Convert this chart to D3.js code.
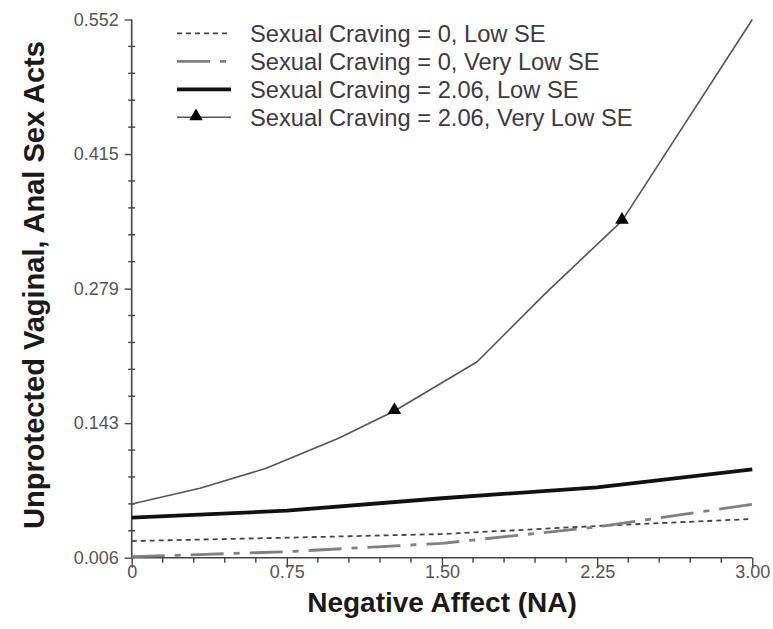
<!DOCTYPE html>
<html>
<head>
<meta charset="utf-8">
<script src="https://cdn.jsdelivr.net/npm/d3@7/dist/d3.min.js"></script>
<style>
  html, body { margin: 0; padding: 0; background: #fff; }
  svg { display: block; font-family: "Liberation Sans", Arial, sans-serif; }
</style>
</head>
<body>
<svg id="chart" width="773" height="629"></svg>
<script>
// ---- data ----
const naLow0 = [0, 0.75, 1.5, 2.25, 3.0];
const valLow0 = [0.0229, 0.0263, 0.0300, 0.0382, 0.0453];          // Sexual Craving = 0, Low SE

const naVeryLow0 = [0, 0.75, 1.5, 2.25, 3.0];
const valVeryLow0 = [0.0070, 0.0121, 0.0206, 0.0372, 0.0602];      // Sexual Craving = 0, Very Low SE

const naLow206 = [0, 0.75, 1.5, 2.25, 3.0];
const valLow206 = [0.0466, 0.0537, 0.0663, 0.0774, 0.0957];        // Sexual Craving = 2.06, Low SE

const naVeryLow206 = [0, 0.33, 0.65, 1.0, 1.27, 1.67, 2.0, 2.37, 3.0];
const valVeryLow206 = [0.0605, 0.0764, 0.0967, 0.1271, 0.1548, 0.2048, 0.2742, 0.3477, 0.552]; // 2.06, Very Low SE
const markerNA = [1.27, 2.37];

const xTickValues = [0, 0.75, 1.5, 2.25, 3.0];
const xTickLabels = ["0", "0.75", "1.50", "2.25", "3.00"];
const yTickValues = [0.006, 0.1425, 0.279, 0.4155, 0.552];
const yTickLabels = ["0.006", "0.143", "0.279", "0.415", "0.552"];

const legendLabels = [
  "Sexual Craving = 0, Low SE",
  "Sexual Craving = 0, Very Low SE",
  "Sexual Craving = 2.06, Low SE",
  "Sexual Craving = 2.06, Very Low SE"
];
const xTitle = "Negative Affect (NA)";
const yTitle = "Unprotected Vaginal, Anal Sex Acts";

// ---- layout ----
const svg = d3.select("#chart");
const x = d3.scaleLinear().domain([0, 3]).range([131.7, 752.3]);
const y = d3.scaleLinear().domain([0.006, 0.552]).range([557.7, 19.5]);

const axisColor = "#444";
const labelColor = "#555";

// Axes lines
const g = svg.append("g");
g.append("line").attr("x1", x(0)).attr("x2", x(3)).attr("y1", y(0.006)).attr("y2", y(0.006))
  .attr("stroke", axisColor).attr("stroke-width", 1.6);
g.append("line").attr("x1", x(0)).attr("x2", x(0)).attr("y1", y(0.006)).attr("y2", y(0.552))
  .attr("stroke", axisColor).attr("stroke-width", 1.6);

// X axis major ticks + labels
const xAxis = d3.axisBottom(x).tickValues(xTickValues).tickSize(10)
  .tickFormat((d, i) => xTickLabels[i]).tickPadding(5);
const gx = svg.append("g").attr("transform", `translate(0,${y(0.006)})`).call(xAxis);
gx.select(".domain").remove();
gx.selectAll(".tick line").attr("stroke", axisColor).attr("stroke-width", 1.4);
gx.selectAll(".tick text").attr("fill", labelColor).attr("font-size", 18)
  .attr("font-family", "Liberation Sans, Arial, sans-serif").attr("y", 8).attr("dy", "0.71em");

// X minor ticks
const xMinor = [];
for (let i = 0; i < xTickValues.length - 1; i++) {
  const a = xTickValues[i], b = xTickValues[i + 1];
  for (let k = 1; k < 5; k++) xMinor.push(a + (b - a) * k / 5);
}
svg.append("g").selectAll("line").data(xMinor).join("line")
  .attr("x1", d => x(d)).attr("x2", d => x(d))
  .attr("y1", y(0.006)).attr("y2", y(0.006) + 5)
  .attr("stroke", axisColor).attr("stroke-width", 1.4);

// Y axis major ticks + labels
const yAxis = d3.axisLeft(y).tickValues(yTickValues).tickSize(7)
  .tickFormat((d, i) => yTickLabels[i]).tickPadding(6);
const gy = svg.append("g").attr("transform", `translate(${x(0)},0)`).call(yAxis);
gy.select(".domain").remove();
gy.selectAll(".tick line").attr("stroke", axisColor).attr("stroke-width", 1.4);
gy.selectAll(".tick text").attr("fill", labelColor).attr("font-size", 18)
  .attr("font-family", "Liberation Sans, Arial, sans-serif");

// Y minor ticks
const yMinor = [];
for (let i = 0; i < yTickValues.length - 1; i++) {
  const a = yTickValues[i], b = yTickValues[i + 1];
  for (let k = 1; k < 5; k++) yMinor.push(a + (b - a) * k / 5);
}
svg.append("g").selectAll("line").data(yMinor).join("line")
  .attr("x1", x(0) - 3.5).attr("x2", x(0) + 3.5)
  .attr("y1", d => y(d)).attr("y2", d => y(d))
  .attr("stroke", axisColor).attr("stroke-width", 1.4);

// ---- series ----
const series = [
  { na: naLow0, val: valLow0, stroke: "#444", width: 1.8, dash: "5,4" },
  { na: naVeryLow0, val: valVeryLow0, stroke: "#808080", width: 2.8, dash: "33,10,6,10" },
  { na: naLow206, val: valLow206, stroke: "#111", width: 3.8, dash: null },
  { na: naVeryLow206, val: valVeryLow206, stroke: "#555", width: 1.6, dash: null }
];
const line = d3.line().x(d => x(d[0])).y(d => y(d[1]));
series.forEach(s => {
  const pts = s.na.map((n, i) => [n, s.val[i]]);
  svg.append("path").datum(pts).attr("d", line)
    .attr("fill", "none").attr("stroke", s.stroke).attr("stroke-width", s.width)
    .attr("stroke-dasharray", s.dash).attr("stroke-linejoin", "round");
});

// markers on the 2.06 / Very Low SE series
const tri = d3.symbol().type(d3.symbolTriangle).size(80);
const markerPts = markerNA.map(n => [n, valVeryLow206[naVeryLow206.indexOf(n)]]);
svg.append("g").selectAll("path").data(markerPts).join("path")
  .attr("d", tri).attr("transform", d => `translate(${x(d[0])},${y(d[1]) - 1})`)
  .attr("fill", "#000");

// ---- legend ----
const legRowsY = [33.3, 61.3, 89.3, 117.3];
const leg = svg.append("g");
legendLabels.forEach((lab, i) => {
  const s = series[i];
  leg.append("line").attr("x1", 177).attr("x2", 231).attr("y1", legRowsY[i]).attr("y2", legRowsY[i])
    .attr("stroke", s.stroke).attr("stroke-width", s.width).attr("stroke-dasharray", s.dash);
  if (i === 3) {
    leg.append("path").attr("d", tri).attr("transform", `translate(196,${legRowsY[i] - 1})`).attr("fill", "#000");
  }
  leg.append("text").attr("x", 250).attr("y", legRowsY[i]).attr("dy", "0.36em")
    .attr("font-size", 23.7).attr("fill", "#3d3a42").text(lab);
});

// ---- axis titles ----
svg.append("text").attr("x", 442).attr("y", 612).attr("text-anchor", "middle")
  .attr("font-size", 28).attr("font-weight", "bold").attr("fill", "#1a1a1a").text(xTitle);
svg.append("text").attr("transform", "translate(44,285) rotate(-90)").attr("text-anchor", "middle")
  .attr("font-size", 29).attr("font-weight", "bold").attr("fill", "#1a1a1a").text(yTitle);
</script>
</body>
</html>
